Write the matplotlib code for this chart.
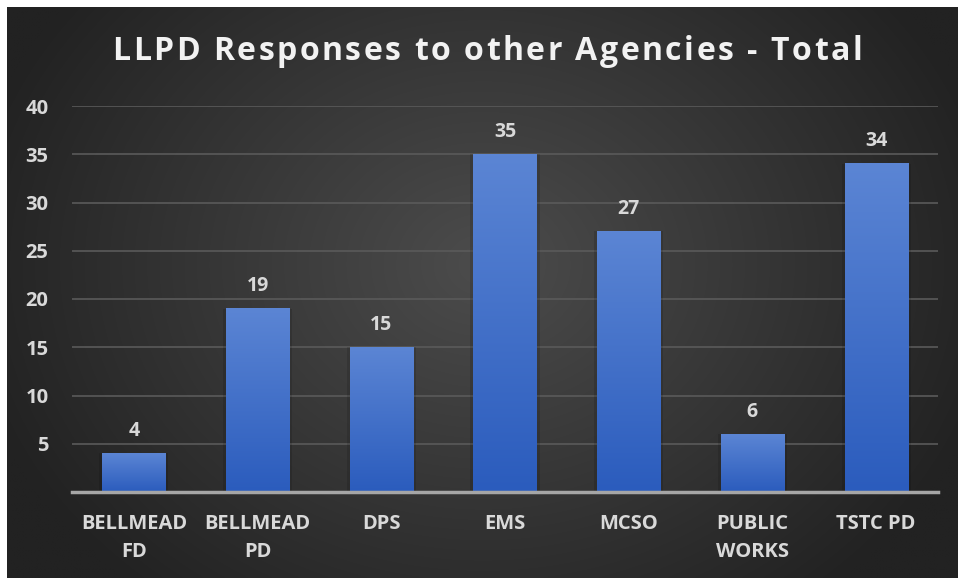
import numpy as np
import matplotlib
matplotlib.use("Agg")
import matplotlib.pyplot as plt

categories = ["BELLMEAD\nFD", "BELLMEAD\nPD", "DPS", "EMS", "MCSO", "PUBLIC\nWORKS", "TSTC PD"]
values = [4, 19, 15, 35, 27, 6, 34]
yticks = [5, 10, 15, 20, 25, 30, 35, 40]
title = "LLPD Responses to other Agencies - Total"

plt.rcParams['font.family'] = ['Open Sans', 'DejaVu Sans']

W, H = 958, 580
fig = plt.figure(figsize=(W / 100, H / 100), dpi=100)
fig.patch.set_facecolor("white")

# background radial gradient
bg = fig.add_axes([7 / W, 2 / H, (W - 7) / W, (H - 9) / H])
bg.set_axis_off()
ny, nx = 300, 500
yy, xx = np.mgrid[0:ny, 0:nx]
cx, cy = nx * 0.5, ny * 0.45
r = np.sqrt(((xx - cx) / (nx * 0.55)) ** 2 + ((yy - cy) / (ny * 0.75)) ** 2)
r = np.clip(r, 0, 1)
c0 = np.array([0x4c, 0x4c, 0x4c]) / 255
c1 = np.array([0x22, 0x22, 0x22]) / 255
img = c0[None, None, :] * (1 - r[..., None]) + c1[None, None, :] * r[..., None]
bg.imshow(img, aspect="auto", extent=[0, 1, 0, 1], interpolation="bilinear")
bg.set_xlim(0, 1)
bg.set_ylim(0, 1)

ax = fig.add_axes([72 / W, (H - 492) / H, (938 - 72) / W, (492 - 106) / H])
ax.set_facecolor("none")
x = np.arange(len(categories))
bw = 0.51

grad = np.linspace(0, 1, 100)[:, None]
top = np.array([0x5b, 0x85, 0xd4]) / 255
bot = np.array([0x2b, 0x5c, 0xbd]) / 255
gimg = bot[None, None, :] * (1 - grad[..., None]) + top[None, None, :] * grad[..., None]
for xi, v in zip(x, values):
    ax.bar(xi, v, width=bw + 0.05, color="black", alpha=0.12, zorder=1)
    ax.imshow(gimg, extent=[xi - bw / 2, xi + bw / 2, 0, v], origin="lower",
              aspect="auto", zorder=2, interpolation="bilinear")
    ax.text(xi, v + 1.3, str(v), ha="center", va="bottom", color="#d9d9d9",
            fontsize=14, fontweight="bold")
ax.set_xlim(-0.5, len(categories) - 0.5)
ax.set_ylim(0, 40)

ax.set_yticks(yticks)
ax.set_yticklabels([str(t) for t in yticks], color="#d9d9d9", fontsize=14.5, fontweight="bold")
ax.set_xticks(x)
ax.set_xticklabels(categories, color="#d9d9d9", fontsize=14.5, fontweight="bold", linespacing=1.55)
ax.tick_params(axis="both", length=0)
ax.tick_params(axis="y", pad=17)
ax.tick_params(axis="x", pad=16)
ax.grid(axis="y", color="#5a5a5a", linewidth=1.2, zorder=0)
ax.set_axisbelow(True)
for s in ["top", "right", "left"]:
    ax.spines[s].set_visible(False)
ax.spines["bottom"].set_color("#a6a6a6")
ax.spines["bottom"].set_linewidth(2.5)
ax.spines["bottom"].set_zorder(3)

# title with letter spacing
renderer = fig.canvas.get_renderer()
fs = 23
tracking = 2.5  # px extra per char
widths = []
for ch in title:
    t = fig.text(0, 0, ch if ch != " " else "n", fontsize=fs, fontweight="bold")
    w = t.get_window_extent(renderer).width
    if ch == " ":
        t2 = fig.text(0, 0, "n n", fontsize=fs, fontweight="bold")
        w = t2.get_window_extent(renderer).width - 2 * w
        t2.remove()
    widths.append(w)
    t.remove()
total = sum(widths) + tracking * (len(title) - 1)
xc = 487
xs = xc - total / 2
yt = H - 52
for ch, w in zip(title, widths):
    if ch != " ":
        fig.text(xs / W, yt / H, ch, ha="left", va="center", color="#f2f2f2",
                 fontsize=fs, fontweight="bold")
    xs += w + tracking

fig.savefig("out.png", dpi=100, facecolor=fig.get_facecolor())
